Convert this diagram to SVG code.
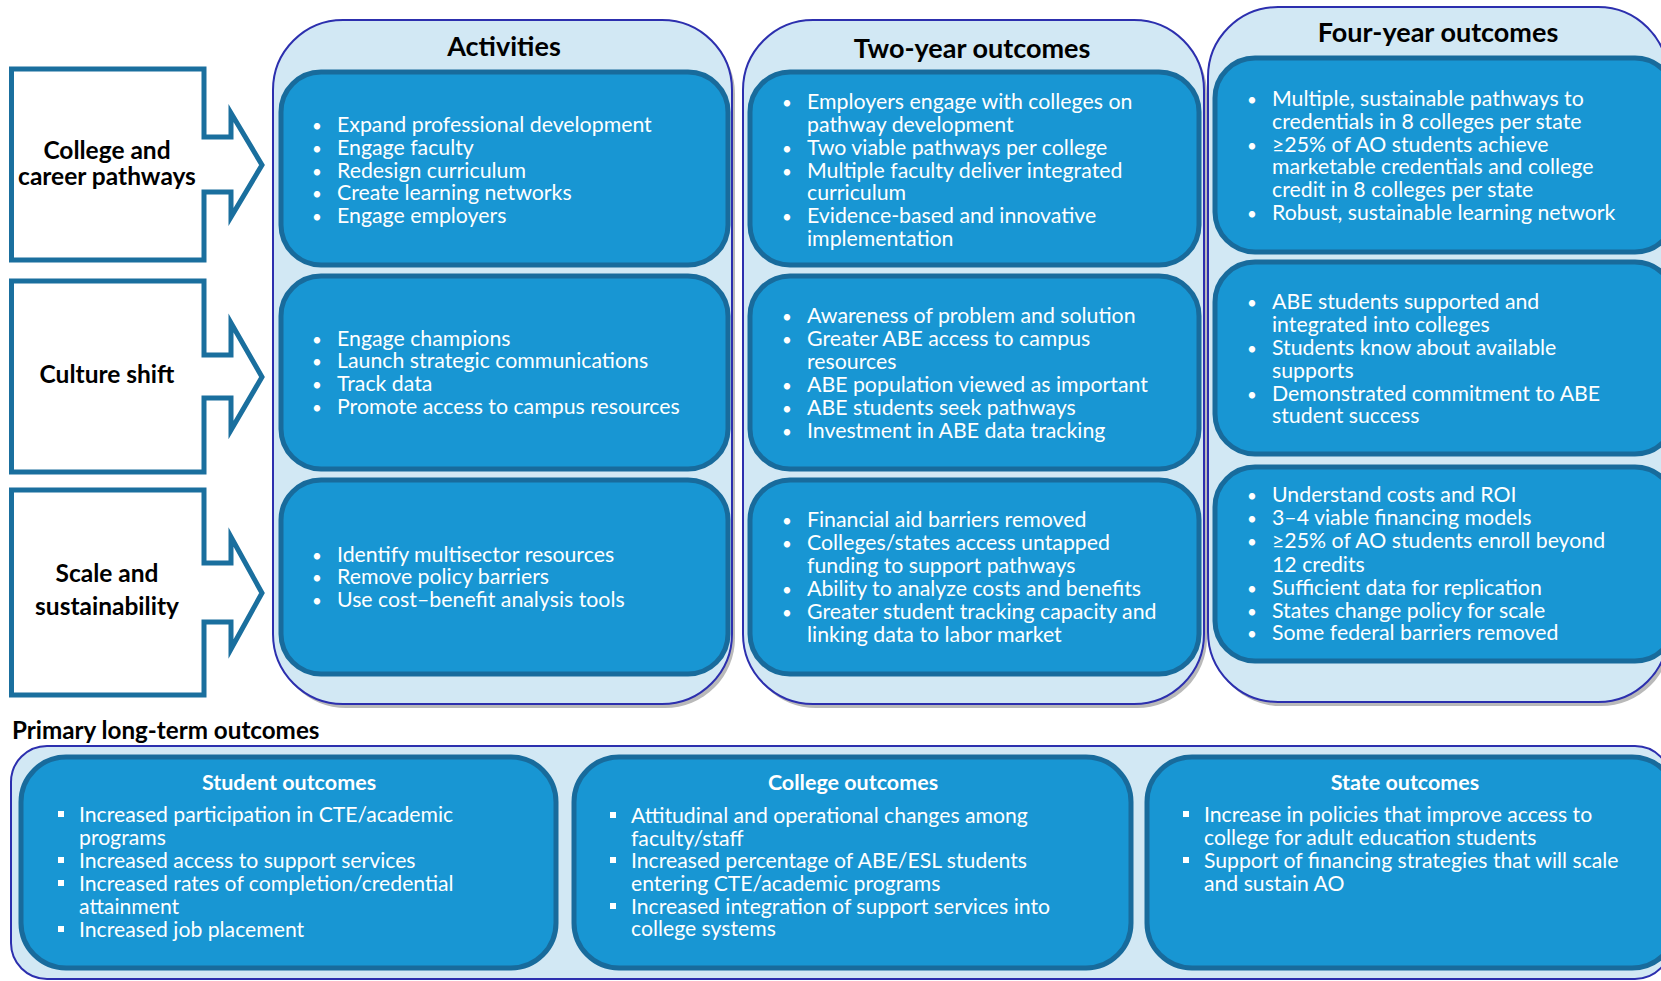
<svg xmlns="http://www.w3.org/2000/svg" width="1661" height="981" viewBox="0 0 1661 981">
  <style>
    text { font-family: Lato, "Liberation Sans", sans-serif; }
    .lane { fill: #d2e8f4; stroke: #2c2fae; stroke-width: 2; }
    .lane-shadow { fill: #b9b9b9; }
    .box { fill: #1896d3; stroke: #186b9c; stroke-width: 5; }
    .driver { fill: #ffffff; stroke: #1a6f9e; stroke-width: 5; stroke-linejoin: miter; }
    .driver-label { font-size: 24.5px; font-weight: 700; fill: #000; text-anchor: middle; }
    .lane-title { font-size: 27px; font-weight: 700; fill: #000; text-anchor: middle; }
    .item { font-size: 21.3px; fill: #ffffff; }
    .dot { font-size: 17px; fill: #ffffff; }
    .sq { fill: #ffffff; }
    .sub-title { font-size: 21.5px; font-weight: 700; fill: #ffffff; text-anchor: middle; }
    .item-sm { font-size: 21.2px; fill: #ffffff; }
    .section { font-size: 24.2px; font-weight: 700; fill: #000; }
  </style>

  <!-- column lanes -->
  <g id="lane-activities">
    <rect class="lane-shadow" x="276" y="24" width="459" height="684" rx="70"/>
    <rect class="lane" x="273" y="20" width="459" height="684" rx="70"/>
    <text class="lane-title" x="504" y="56">Activities</text>
  </g>
  <g id="lane-two-year">
    <rect class="lane-shadow" x="746" y="24" width="461" height="684" rx="70"/>
    <rect class="lane" x="743" y="20" width="461" height="684" rx="70"/>
    <text class="lane-title" x="972" y="58">Two-year outcomes</text>
  </g>
  <g id="lane-four-year">
    <rect class="lane-shadow" x="1211" y="11" width="460" height="695" rx="70"/>
    <rect class="lane" x="1208" y="7" width="460" height="695" rx="70"/>
    <text class="lane-title" x="1438" y="42">Four-year outcomes</text>
  </g>

  <!-- drivers -->
  <g id="driver-pathways">
    <path class="driver" d="M11.5,69 H204 V137 H231 V113 L262,165 L231,217 V192 H204 V260 H11.5 Z"/>
    <text class="driver-label"><tspan x="107" y="159">College and</tspan><tspan x="107" y="185">career pathways</tspan></text>
  </g>
  <g id="driver-culture">
    <path class="driver" d="M11.5,281 H204 V355 H231 V323 L262,377 L231,430 V398 H204 V472 H11.5 Z"/>
    <text class="driver-label" x="107" y="383">Culture shift</text>
  </g>
  <g id="driver-scale">
    <path class="driver" d="M11.5,490 H204 V563 H231 V537 L262,593 L231,649 V622 H204 V695 H11.5 Z"/>
    <text class="driver-label"><tspan x="107" y="582">Scale and</tspan><tspan x="107" y="615">sustainability</tspan></text>
  </g>

  <!-- activities -->
  <g id="act-pathways">
    <rect class="box" x="281" y="72" width="447" height="193" rx="40"/>
    <text class="dot"><tspan x="312" y="132">•</tspan><tspan x="312" y="155">•</tspan><tspan x="312" y="178">•</tspan><tspan x="312" y="200">•</tspan><tspan x="312" y="223">•</tspan></text>
    <text class="item"><tspan x="337" y="132">Expand professional development</tspan><tspan x="337" y="155">Engage faculty</tspan><tspan x="337" y="178">Redesign curriculum</tspan><tspan x="337" y="200">Create learning networks</tspan><tspan x="337" y="223">Engage employers</tspan></text>
  </g>
  <g id="act-culture">
    <rect class="box" x="281" y="276" width="447" height="193" rx="40"/>
    <text class="dot"><tspan x="312" y="346">•</tspan><tspan x="312" y="368">•</tspan><tspan x="312" y="391">•</tspan><tspan x="312" y="414">•</tspan></text>
    <text class="item"><tspan x="337" y="346">Engage champions</tspan><tspan x="337" y="368">Launch strategic communications</tspan><tspan x="337" y="391">Track data</tspan><tspan x="337" y="414">Promote access to campus resources</tspan></text>
  </g>
  <g id="act-scale">
    <rect class="box" x="281" y="480" width="447" height="194" rx="40"/>
    <text class="dot"><tspan x="312" y="562">•</tspan><tspan x="312" y="584">•</tspan><tspan x="312" y="607">•</tspan></text>
    <text class="item"><tspan x="337" y="562">Identify multisector resources</tspan><tspan x="337" y="584">Remove policy barriers</tspan><tspan x="337" y="607">Use cost–benefit analysis tools</tspan></text>
  </g>

  <!-- two-year outcomes -->
  <g id="two-pathways">
    <rect class="box" x="750" y="72" width="449" height="193" rx="40"/>
    <text class="dot"><tspan x="782" y="109">•</tspan><tspan x="782" y="155">•</tspan><tspan x="782" y="178">•</tspan><tspan x="782" y="223">•</tspan></text>
    <text class="item"><tspan x="807" y="109">Employers engage with colleges on</tspan><tspan x="807" y="132">pathway development</tspan><tspan x="807" y="155">Two viable pathways per college</tspan><tspan x="807" y="178">Multiple faculty deliver integrated</tspan><tspan x="807" y="200">curriculum</tspan><tspan x="807" y="223">Evidence-based and innovative</tspan><tspan x="807" y="246">implementation</tspan></text>
  </g>
  <g id="two-culture">
    <rect class="box" x="750" y="276" width="449" height="193" rx="40"/>
    <text class="dot"><tspan x="782" y="323">•</tspan><tspan x="782" y="346">•</tspan><tspan x="782" y="392">•</tspan><tspan x="782" y="415">•</tspan><tspan x="782" y="438">•</tspan></text>
    <text class="item"><tspan x="807" y="323">Awareness of problem and solution</tspan><tspan x="807" y="346">Greater ABE access to campus</tspan><tspan x="807" y="369">resources</tspan><tspan x="807" y="392">ABE population viewed as important</tspan><tspan x="807" y="415">ABE students seek pathways</tspan><tspan x="807" y="438">Investment in ABE data tracking</tspan></text>
  </g>
  <g id="two-scale">
    <rect class="box" x="750" y="480" width="449" height="194" rx="40"/>
    <text class="dot"><tspan x="782" y="527">•</tspan><tspan x="782" y="550">•</tspan><tspan x="782" y="596">•</tspan><tspan x="782" y="619">•</tspan></text>
    <text class="item"><tspan x="807" y="527">Financial aid barriers removed</tspan><tspan x="807" y="550">Colleges/states access untapped</tspan><tspan x="807" y="573">funding to support pathways</tspan><tspan x="807" y="596">Ability to analyze costs and benefits</tspan><tspan x="807" y="619">Greater student tracking capacity and</tspan><tspan x="807" y="642">linking data to labor market</tspan></text>
  </g>

  <!-- four-year outcomes -->
  <g id="four-pathways">
    <rect class="box" x="1215" y="58" width="460" height="194" rx="40"/>
    <text class="dot"><tspan x="1247" y="106">•</tspan><tspan x="1247" y="152">•</tspan><tspan x="1247" y="220">•</tspan></text>
    <text class="item"><tspan x="1272" y="106">Multiple, sustainable pathways to</tspan><tspan x="1272" y="129">credentials in 8 colleges per state</tspan><tspan x="1272" y="152">≥25% of AO students achieve</tspan><tspan x="1272" y="174">marketable credentials and college</tspan><tspan x="1272" y="197">credit in 8 colleges per state</tspan><tspan x="1272" y="220">Robust, sustainable learning network</tspan></text>
  </g>
  <g id="four-culture">
    <rect class="box" x="1215" y="262" width="460" height="192" rx="40"/>
    <text class="dot"><tspan x="1247" y="309">•</tspan><tspan x="1247" y="355">•</tspan><tspan x="1247" y="401">•</tspan></text>
    <text class="item"><tspan x="1272" y="309">ABE students supported and</tspan><tspan x="1272" y="332">integrated into colleges</tspan><tspan x="1272" y="355">Students know about available</tspan><tspan x="1272" y="378">supports</tspan><tspan x="1272" y="401">Demonstrated commitment to ABE</tspan><tspan x="1272" y="423">student success</tspan></text>
  </g>
  <g id="four-scale">
    <rect class="box" x="1215" y="467" width="460" height="194" rx="40"/>
    <text class="dot"><tspan x="1247" y="502">•</tspan><tspan x="1247" y="525">•</tspan><tspan x="1247" y="548">•</tspan><tspan x="1247" y="595">•</tspan><tspan x="1247" y="618">•</tspan><tspan x="1247" y="640">•</tspan></text>
    <text class="item"><tspan x="1272" y="502">Understand costs and ROI</tspan><tspan x="1272" y="525">3–4 viable financing models</tspan><tspan x="1272" y="548">≥25% of AO students enroll beyond</tspan><tspan x="1272" y="572">12 credits</tspan><tspan x="1272" y="595">Sufficient data for replication</tspan><tspan x="1272" y="618">States change policy for scale</tspan><tspan x="1272" y="640">Some federal barriers removed</tspan></text>
  </g>

  <!-- long-term outcomes -->
  <text class="section" x="12" y="739">Primary long-term outcomes</text>
  <g id="lane-long-term">
    <rect class="lane" x="11" y="746" width="1660" height="233" rx="36"/>
  </g>
  <g id="long-student">
    <rect class="box" x="21" y="757" width="535" height="211" rx="45"/>
    <text class="sub-title" x="289" y="790">Student outcomes</text>
    <rect class="sq" x="58" y="811" width="6" height="6"/>
    <rect class="sq" x="58" y="857" width="6" height="6"/>
    <rect class="sq" x="58" y="880" width="6" height="6"/>
    <rect class="sq" x="58" y="926" width="6" height="6"/>
    <text class="item-sm"><tspan x="79" y="822">Increased participation in CTE/academic</tspan><tspan x="79" y="845">programs</tspan><tspan x="79" y="868">Increased access to support services</tspan><tspan x="79" y="891">Increased rates of completion/credential</tspan><tspan x="79" y="914">attainment</tspan><tspan x="79" y="937">Increased job placement</tspan></text>
  </g>
  <g id="long-college">
    <rect class="box" x="574" y="757" width="557" height="211" rx="45"/>
    <text class="sub-title" x="853" y="790">College outcomes</text>
    <rect class="sq" x="610" y="812" width="6" height="6"/>
    <rect class="sq" x="610" y="857" width="6" height="6"/>
    <rect class="sq" x="610" y="903" width="6" height="6"/>
    <text class="item-sm"><tspan x="631" y="823">Attitudinal and operational changes among</tspan><tspan x="631" y="846">faculty/staff</tspan><tspan x="631" y="868">Increased percentage of ABE/ESL students</tspan><tspan x="631" y="891">entering CTE/academic programs</tspan><tspan x="631" y="914">Increased integration of support services into</tspan><tspan x="631" y="936">college systems</tspan></text>
  </g>
  <g id="long-state">
    <rect class="box" x="1147" y="757" width="530" height="211" rx="45"/>
    <text class="sub-title" x="1405" y="790">State outcomes</text>
    <rect class="sq" x="1183" y="811" width="6" height="6"/>
    <rect class="sq" x="1183" y="857" width="6" height="6"/>
    <text class="item-sm"><tspan x="1204" y="822">Increase in policies that improve access to</tspan><tspan x="1204" y="845">college for adult education students</tspan><tspan x="1204" y="868">Support of financing strategies that will scale</tspan><tspan x="1204" y="891">and sustain AO</tspan></text>
  </g>

  <!-- connectors: the arrowheads are built into the driver shapes -->
  <g id="connectors"/>
</svg>
